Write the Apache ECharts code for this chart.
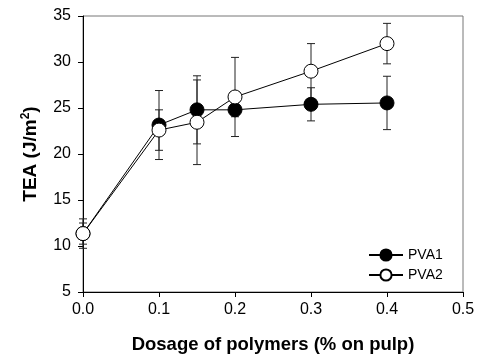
<!DOCTYPE html>
<html>
<head>
<meta charset="utf-8">
<script src="https://cdn.jsdelivr.net/npm/echarts@6/dist/echarts.min.js"></script>
<style>html,body{margin:0;padding:0;background:#fff;}#c{width:485px;height:362px;}</style>
</head>
<body>
<div id="c"></div>
<script>
var xValues = [0, 0.1, 0.15, 0.2, 0.3, 0.4];
var pva1 = [11.35, 23.15, 24.8, 24.8, 25.4, 25.55];
var pva1Err = [1.6, 3.75, 3.7, 0.75, 1.8, 2.9];
var pva2 = [11.35, 22.6, 23.45, 26.2, 29.0, 32.0];
var pva2Err = [1.15, 2.2, 4.6, 4.3, 3.0, 2.2];
var seriesNames = ['PVA1', 'PVA2'];
var xTitle = 'Dosage of polymers (% on pulp)';

var FONT = 'Arial, "Liberation Sans", sans-serif';

function pairs(ys) { return xValues.map(function (x, i) { return [x, ys[i]]; }); }
function errData(ys, es) { return xValues.map(function (x, i) { return [x, ys[i] - es[i], ys[i] + es[i]]; }); }

function renderErr(params, api) {
  var x = api.value(0);
  var lo = api.coord([x, api.value(1)]);
  var hi = api.coord([x, api.value(2)]);
  var w = 4;
  var st = { stroke: '#222', lineWidth: 1 };
  return {
    type: 'group',
    children: [
      { type: 'line', shape: { x1: lo[0], y1: lo[1], x2: hi[0], y2: hi[1] }, style: st },
      { type: 'line', shape: { x1: lo[0] - w, y1: lo[1], x2: lo[0] + w, y2: lo[1] }, style: st },
      { type: 'line', shape: { x1: hi[0] - w, y1: hi[1], x2: hi[0] + w, y2: hi[1] }, style: st }
    ]
  };
}

var chart = echarts.init(document.getElementById('c'), null, { renderer: 'canvas' });
chart.setOption({
  animation: false,
  backgroundColor: '#fff',
  textStyle: { fontFamily: FONT },
  grid: { left: 83, right: 22, top: 16, bottom: 70, show: true, borderColor: '#777', borderWidth: 1, backgroundColor: 'transparent' },
  legend: {
    orient: 'vertical', left: 363, top: 243, itemWidth: 34, itemHeight: 14, itemGap: 6,
    textStyle: { fontFamily: FONT, fontSize: 14, color: '#000' },
    data: seriesNames
  },
  xAxis: {
    type: 'value', min: 0, max: 0.5, interval: 0.1,
    name: xTitle, nameLocation: 'middle', nameGap: 43,
    nameTextStyle: { fontFamily: FONT, fontSize: 18.5, fontWeight: 'bold', color: '#000' },
    axisLine: { show: true, onZero: false, lineStyle: { color: '#000', width: 1 } },
    axisTick: { show: true, length: 5, lineStyle: { color: '#000' } },
    axisLabel: { fontFamily: FONT, fontSize: 16, color: '#000', margin: 10, formatter: function (v) { return v.toFixed(1); } },
    splitLine: { show: false }
  },
  yAxis: {
    type: 'value', min: 5, max: 35, interval: 5,
    name: 'TEA (J/m{sup|2})', nameLocation: 'middle', nameGap: 42, nameRotate: 90,
    nameTextStyle: {
      fontFamily: FONT, fontSize: 19, fontWeight: 'bold', color: '#000',
      rich: { sup: { fontFamily: FONT, fontSize: 12, fontWeight: 'bold', color: '#000', padding: [0, 0, 9, 0] } }
    },
    axisLine: { show: true, lineStyle: { color: '#000', width: 1 } },
    axisTick: { show: true, length: 5, lineStyle: { color: '#000' } },
    axisLabel: { fontFamily: FONT, fontSize: 16, color: '#000', margin: 12 },
    splitLine: { show: false }
  },
  series: [
    { type: 'custom', name: 'err1', renderItem: renderErr, data: errData(pva1, pva1Err), encode: { x: 0, y: [1, 2] }, z: 1, silent: true },
    { type: 'custom', name: 'err2', renderItem: renderErr, data: errData(pva2, pva2Err), encode: { x: 0, y: [1, 2] }, z: 1, silent: true },
    {
      type: 'line', name: seriesNames[0], data: pairs(pva1), symbol: 'circle', symbolSize: 14, showAllSymbol: true,
      lineStyle: { color: '#000', width: 1 }, itemStyle: { color: '#000', borderColor: '#000', borderWidth: 1 }, z: 3
    },
    {
      type: 'line', name: seriesNames[1], data: pairs(pva2), symbol: 'circle', symbolSize: 14, showAllSymbol: true,
      lineStyle: { color: '#000', width: 1 }, itemStyle: { color: '#fff', borderColor: '#000', borderWidth: 1 }, z: 4
    }
  ]
});
</script>
</body>
</html>
